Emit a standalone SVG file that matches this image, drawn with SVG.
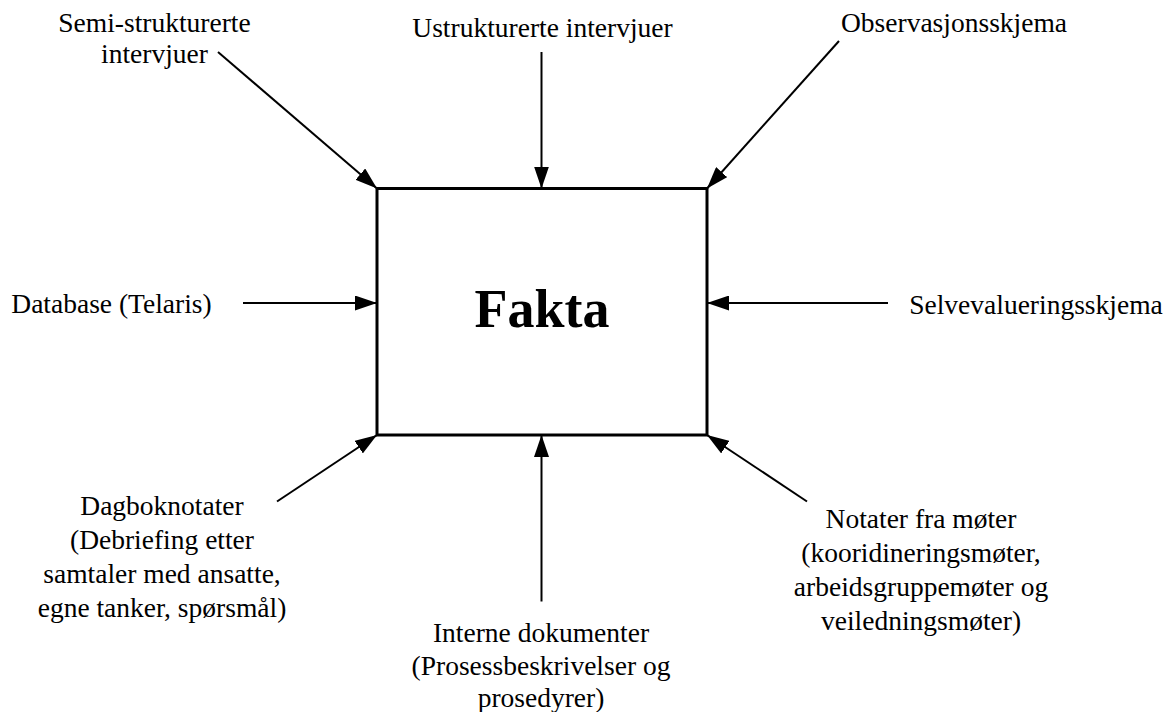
<svg xmlns="http://www.w3.org/2000/svg" width="1169" height="712" viewBox="0 0 1169 712">
  <defs>
    <style>
      .lbl { font-family: "Liberation Serif", "Times New Roman", serif; font-size: 27.5px; fill: #000; text-anchor: middle; }
      .title { font-family: "Liberation Serif", "Times New Roman", serif; font-size: 54px; font-weight: bold; fill: #000; text-anchor: middle; }
      .conn { stroke: #000; stroke-width: 2; fill: none; marker-end: url(#head); }
    </style>
    <marker id="head" markerUnits="userSpaceOnUse" markerWidth="22" markerHeight="15" refX="22" refY="7.5" orient="auto">
      <path d="M0,0 L22,7.5 L0,15 Z" fill="#000"/>
    </marker>
  </defs>
  <rect width="1169" height="712" fill="#fff"/>

  <!-- central box -->
  <g id="fakta">
    <rect x="377" y="188.5" width="330" height="246.5" fill="#fff" stroke="#000" stroke-width="3"/>
    <text class="title" x="542" y="327">Fakta</text>
  </g>

  <!-- sources -->
  <g id="semi">
    <text class="lbl" x="154.5" y="31.5">Semi-strukturerte</text>
    <text class="lbl" x="154.5" y="63">intervjuer</text>
  </g>
  <g id="ustrukturerte">
    <text class="lbl" x="542.5" y="37">Ustrukturerte intervjuer</text>
  </g>
  <g id="observasjon">
    <text class="lbl" x="954" y="31.5">Observasjonsskjema</text>
  </g>
  <g id="database">
    <text class="lbl" x="111.5" y="313">Database (Telaris)</text>
  </g>
  <g id="selvevaluering">
    <text class="lbl" x="1036" y="314">Selvevalueringsskjema</text>
  </g>
  <g id="dagbok">
    <text class="lbl" x="162" y="515">Dagboknotater</text>
    <text class="lbl" x="162" y="549">(Debriefing etter</text>
    <text class="lbl" x="162" y="583">samtaler med ansatte,</text>
    <text class="lbl" x="162" y="617">egne tanker, spørsmål)</text>
  </g>
  <g id="interne">
    <text class="lbl" x="541" y="641.5">Interne dokumenter</text>
    <text class="lbl" x="541" y="675">(Prosessbeskrivelser og</text>
    <text class="lbl" x="541" y="707">prosedyrer)</text>
  </g>
  <g id="notater">
    <text class="lbl" x="921" y="528">Notater fra møter</text>
    <text class="lbl" x="921" y="562">(kooridineringsmøter,</text>
    <text class="lbl" x="921" y="596">arbeidsgruppemøter og</text>
    <text class="lbl" x="921" y="630">veiledningsmøter)</text>
  </g>

  <!-- connectors into the box -->
  <g id="connectors">
    <line class="conn" x1="218" y1="52" x2="377" y2="188.5"/>
    <line class="conn" x1="541.5" y1="52" x2="541.5" y2="188.5"/>
    <line class="conn" x1="839" y1="41" x2="707" y2="188.5"/>
    <line class="conn" x1="243" y1="303" x2="377" y2="303"/>
    <line class="conn" x1="888" y1="303" x2="707" y2="303"/>
    <line class="conn" x1="277" y1="501.5" x2="377" y2="435"/>
    <line class="conn" x1="541.5" y1="601.5" x2="541.5" y2="435"/>
    <line class="conn" x1="807" y1="501.5" x2="707" y2="435"/>
  </g>
</svg>
